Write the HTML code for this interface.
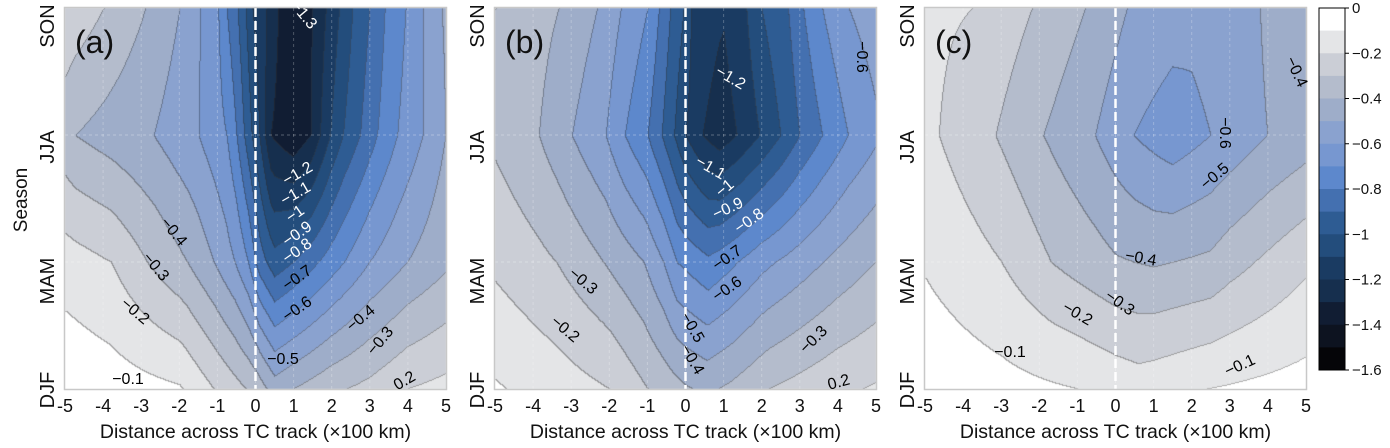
<!DOCTYPE html>
<html><head><meta charset="utf-8">
<style>
html,body{margin:0;padding:0;background:#fff;}
#wrap{position:relative;width:1390px;height:448px;overflow:hidden;}
canvas{position:absolute;left:0;top:0;}
svg{position:absolute;left:0;top:0;}
text{font-family:"Liberation Sans",Arial,sans-serif;}
</style></head><body>
<div id="wrap">
<canvas id="cv" width="1390" height="448"></canvas>
<svg id="sv" width="1390" height="448" viewBox="0 0 1390 448"></svg>
</div>
<script>
var cols=["#ffffff","#e4e5e7","#cbced6","#b4bccc","#9eadc9","#8aa2cf","#7797d0","#5d88cc","#4470b0","#2e5c93","#234d7c","#1a3b62","#162f4e","#111d33","#0d1320","#050508"];
function hex(c){return [parseInt(c.substr(1,2),16),parseInt(c.substr(3,2),16),parseInt(c.substr(5,2),16)];}
var rgb=cols.map(hex);
var panels=[
{x0:65,rows:[
 [[-5,-.22],[-4,-.3],[-2.9,-.4],[-2,-.5],[-1.46,-.6],[-.98,-.7],[-.76,-.8],[-.47,-.9],[-.26,-1.0],[-.08,-1.1],[.29,-1.2],[.6,-1.3],[1,-1.38],[1.5,-1.3],[1.85,-1.2],[2.2,-1.1],[2.55,-1.0],[3.0,-.9],[3.4,-.8],[3.95,-.7],[4.4,-.6],[4.9,-.5],[5,-.49]],
 [[-5,-.37],[-4.74,-.4],[-2.68,-.5],[-1.5,-.6],[-.76,-.7],[-.5,-.8],[-.3,-.9],[-.1,-1.0],[.1,-1.1],[.25,-1.2],[.4,-1.3],[1,-1.38],[1.45,-1.3],[1.7,-1.2],[1.96,-1.1],[2.3,-1.0],[2.75,-.9],[3.2,-.8],[3.73,-.7],[4.4,-.6],[5,-.5]],
 [[-5,-.15],[-3.8,-.2],[-2.85,-.3],[-1.8,-.4],[-1.1,-.5],[-.55,-.6],[-.2,-.7],[.1,-.85],[.5,-.96],[1,-.9],[2,-.75],[3,-.6],[4,-.5],[5,-.42]],
 [[-5,-.02],[-2,-.09],[-1.1,-.2],[0,-.33],[.5,-.45],[1,-.4],[2,-.32],[3,-.27],[4,-.2],[5,-.17]]
]},
{x0:495,rows:[
 [[-5,-.3],[-3.34,-.4],[-2.33,-.5],[-1.7,-.6],[-1,-.7],[-.7,-.8],[-.4,-.9],[-.05,-1.0],[.15,-1.1],[1,-1.19],[1.6,-1.1],[2,-1.0],[2.7,-.9],[3.1,-.8],[3.6,-.7],[4.3,-.6],[5,-.55]],
 [[-5,-.32],[-3.86,-.4],[-2.99,-.5],[-2.1,-.6],[-1.6,-.7],[-1,-.8],[-.63,-.9],[-.3,-1.0],[0,-1.1],[.45,-1.2],[.9,-1.26],[1.35,-1.2],[1.95,-1.1],[2.5,-1.0],[3.0,-.9],[3.6,-.8],[4.28,-.7],[5,-.62]],
 [[-5,-.22],[-3.4,-.3],[-2.16,-.4],[-1.1,-.5],[-.58,-.6],[-.23,-.7],[.6,-.78],[1.2,-.72],[2,-.63],[3,-.55],[4,-.47],[5,-.4]],
 [[-5,-.09],[-2,-.2],[-1,-.3],[0,-.39],[.55,-.42],[1.2,-.38],[2.2,-.3],[4,-.22],[5,-.19]]
]},
{x0:925,rows:[
 [[-5,-.18],[-3.77,-.2],[-2.2,-.3],[-.8,-.4],[.3,-.5],[2,-.57],[3.8,-.5],[4.3,-.45],[5,-.42]],
 [[-5,-.18],[-4.65,-.2],[-3.16,-.3],[-1.9,-.4],[-.54,-.5],[.47,-.6],[1.5,-.66],[2.5,-.6],[4,-.5],[5,-.45]],
 [[-5,-.11],[-3,-.2],[-1.7,-.3],[0,-.39],[1,-.41],[2.5,-.38],[3,-.34],[4,-.28],[5,-.22]],
 [[-5,-.03],[-1,-.1],[.6,-.15],[2.4,-.1],[5,-.06]]
]}];
function rv(k,x){if(x<=k[0][0])return k[0][1];for(var i=1;i<k.length;i++){if(x<=k[i][0]){var t=(x-k[i-1][0])/(k[i][0]-k[i-1][0]);return k[i-1][1]+t*(k[i][1]-k[i-1][1]);}}return k[k.length-1][1];}
var W=381,H=381,Y0=8;
var cv=document.getElementById('cv'),ctx=cv.getContext('2d');
ctx.fillStyle='#fff';ctx.fillRect(0,0,1390,448);
panels.forEach(function(p){
 var img=ctx.createImageData(W,H);var lev=new Int16Array(W*H);
 for(var py=0;py<H;py++){var ty=py/(H-1)*3;var r=Math.min(2,Math.floor(ty));var f=ty-r;
  for(var px=0;px<W;px++){var x=-5+px/(W-1)*10;
   var v=rv(p.rows[r],x)*(1-f)+rv(p.rows[r+1],x)*f;
   var k=Math.floor(-v/0.1);if(k<0)k=0;if(k>15)k=15;lev[py*W+px]=k;}}
 for(var py=0;py<H;py++)for(var px=0;px<W;px++){var k=lev[py*W+px];var c=rgb[k].slice();
  var edge=(px>0&&lev[py*W+px-1]!=k)||(py>0&&lev[(py-1)*W+px]!=k);
  if(edge){for(var j=0;j<3;j++)c[j]=Math.round(c[j]*0.6+50*0.4);}
  var i=(py*W+px)*4;img.data[i]=c[0];img.data[i+1]=c[1];img.data[i+2]=c[2];img.data[i+3]=255;}
 ctx.putImageData(img,p.x0,Y0);
});
var s='';
var lbl=['(a)','(b)','(c)'];
panels.forEach(function(p,n){
 var x0=p.x0;
 for(var i=1;i<10;i++){var gx=x0+i*W/10;s+='<line x1="'+gx+'" y1="'+Y0+'" x2="'+gx+'" y2="'+(Y0+H)+'" stroke="#fff" stroke-opacity="0.25" stroke-width="1" stroke-dasharray="3,3"/>';}
 for(var j=1;j<3;j++){var gy=Y0+j*H/3;s+='<line x1="'+x0+'" y1="'+gy+'" x2="'+(x0+W)+'" y2="'+gy+'" stroke="#fff" stroke-opacity="0.3" stroke-width="1" stroke-dasharray="3,3"/>';}
 var zx=x0+W/2;
 s+='<line x1="'+zx+'" y1="'+Y0+'" x2="'+zx+'" y2="'+(Y0+H)+'" stroke="#fff" stroke-width="2.5" stroke-dasharray="9,4"/>';
 s+='<rect x="'+(x0-0.5)+'" y="'+(Y0-0.5)+'" width="'+(W+1)+'" height="'+(H+1)+'" fill="none" stroke="#c8c8c8" stroke-width="1.5"/>';
 for(var i=0;i<=10;i++){var tx=x0+i*W/10;s+='<text x="'+tx+'" y="412" font-size="18" text-anchor="middle" fill="#111">'+(i-5)+'</text>';}
 s+='<text x="'+(x0+W/2)+'" y="438" font-size="19.5" text-anchor="middle" fill="#111">Distance across TC track (×100 km)</text>';
 var yl=[['SON',26],['JJA',147],['MAM',281],['DJF',390]];
 yl.forEach(function(a){s+='<text transform="translate('+(x0-11)+','+a[1]+') rotate(-90)" font-size="20" text-anchor="middle" fill="#111">'+a[0]+'</text>';});
 s+='<text x="'+(x0+10)+'" y="53" font-size="32" fill="#111">'+lbl[n]+'</text>';
});
s+='<text transform="translate(27,200) rotate(-90)" font-size="19" text-anchor="middle" fill="#111">Season</text>';
function cl(x,y,t,c,a){s+='<text transform="translate('+x+','+y+') rotate('+a+')" font-size="16" text-anchor="middle" fill="'+c+'">'+t+'</text>';}
cl(300,18,'−1.3','#fff',50);
cl(300,178,'−1.2','#fff',-30);cl(298,198,'−1.1','#fff',-30);cl(298,218,'−1','#fff',-35);
cl(300,238,'−0.9','#fff',-35);cl(300,255,'−0.8','#fff',-35);cl(300,282,'−0.7','#000',-35);
cl(300,313,'−0.6','#000',-35);cl(283,364,'−0.5','#000',0);cl(170,235,'−0.4','#000',50);
cl(152,270,'−0.3','#000',50);cl(132,315,'−0.2','#000',40);cl(128,384,'−0.1','#000',0);
cl(364,322,'−0.4','#000',-40);cl(384,344,'−0.3','#000',-50);cl(407,385,'0.2','#000',-30);
cl(728,82,'−1.2','#fff',30);cl(708,172,'−1.1','#fff',30);cl(728,192,'−1','#fff',-40);
cl(730,213,'−0.9','#fff',-25);cl(752,225,'−0.8','#fff',-35);cl(730,262,'−0.7','#000',-35);
cl(730,293,'−0.6','#000',-35);cl(688,330,'−0.5','#000',60);cl(688,362,'−0.4','#000',60);
cl(580,285,'−0.3','#000',40);cl(562,333,'−0.2','#000',40);cl(817,343,'−0.3','#000',-45);
cl(840,387,'0.2','#000',-15);cl(857,57,'−0.6','#000',90);
cl(1292,74,'−0.4','#000',65);cl(1220,133,'−0.6','#000',90);cl(1218,180,'−0.5','#000',-40);
cl(1140,263,'−0.4','#000',10);cl(1117,307,'−0.3','#000',35);cl(1075,318,'−0.2','#000',30);
cl(1010,357,'−0.1','#000',0);cl(1242,370,'−0.1','#000',-25);
var cx=1319,cy=8,cw=26,ch=362;
for(var k=0;k<16;k++){s+='<rect x="'+cx+'" y="'+(cy+k*ch/16)+'" width="'+cw+'" height="'+(ch/16+0.5)+'" fill="'+cols[k]+'"/>';}
s+='<rect x="'+cx+'" y="'+cy+'" width="'+cw+'" height="'+ch+'" fill="none" stroke="#000" stroke-width="1"/>';
var cbl=['0','−0.2','−0.4','−0.6','−0.8','−1','−1.2','−1.4','−1.6'];
for(var i=0;i<9;i++){var ty=cy+i*ch/8;s+='<line x1="'+(cx+cw)+'" y1="'+ty+'" x2="'+(cx+cw+4)+'" y2="'+ty+'" stroke="#000"/>';
 s+='<text x="'+(cx+cw+7)+'" y="'+(ty+5)+'" font-size="15" fill="#111">'+cbl[i]+'</text>';}
document.getElementById('sv').innerHTML=s;
</script>
</body></html>
